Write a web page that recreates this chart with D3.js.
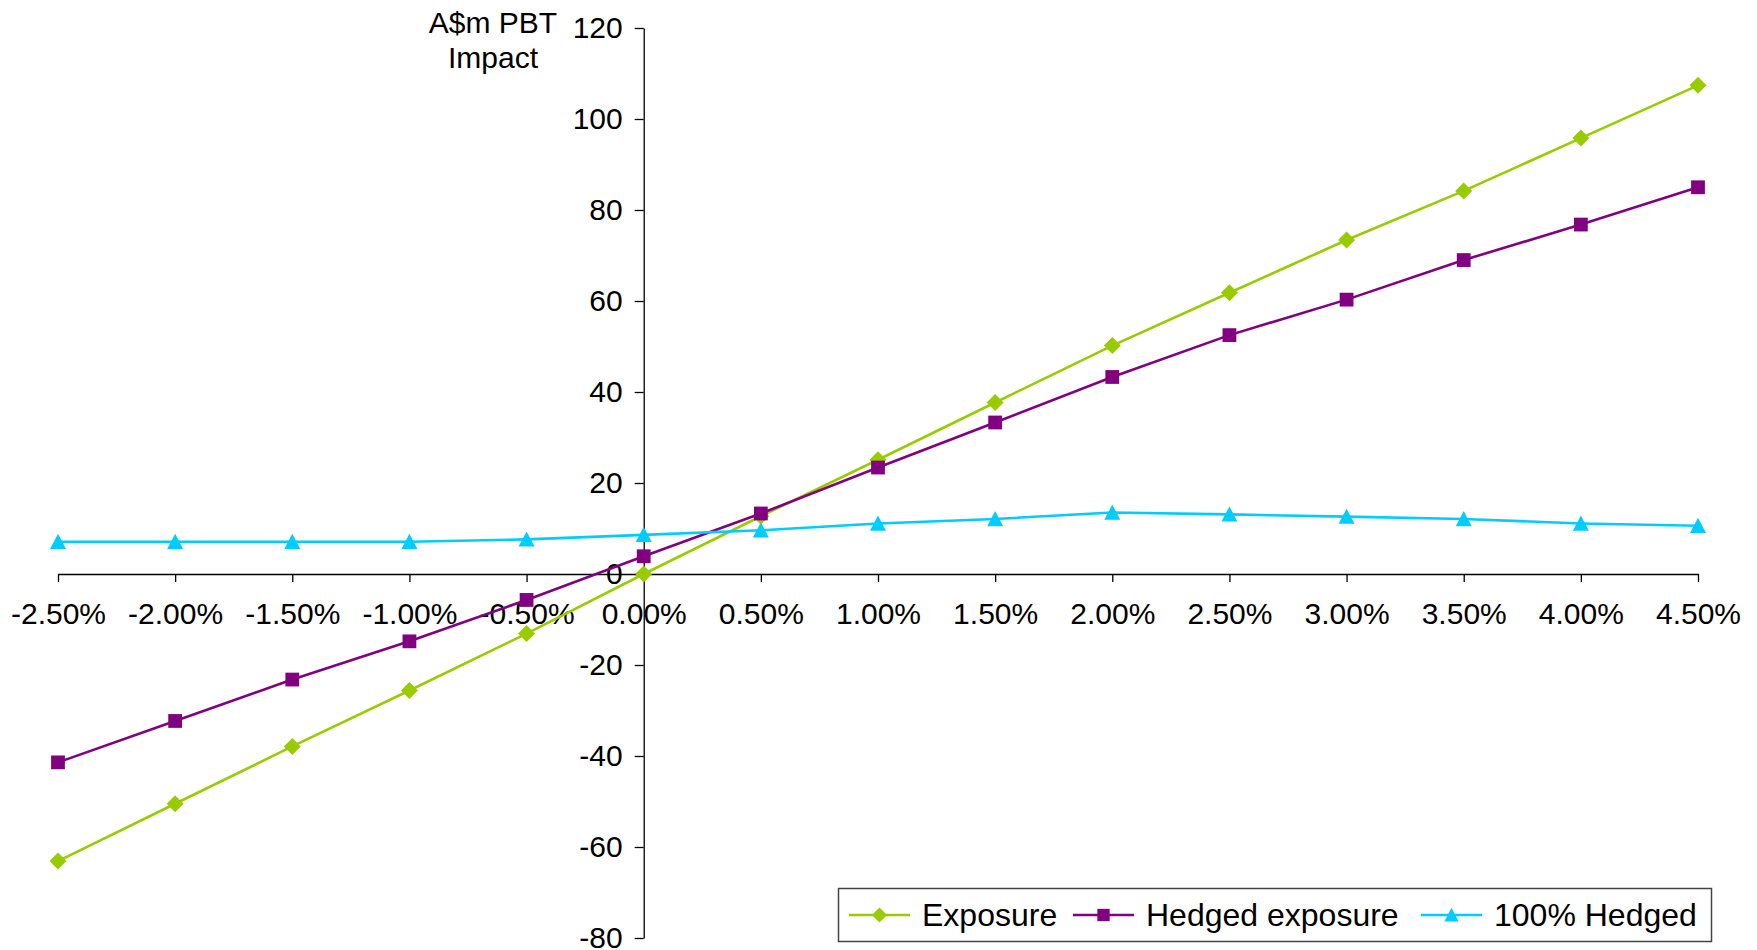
<!DOCTYPE html>
<html lang="en">
<head>
    <meta charset="UTF-8">
    <title>A$m PBT Impact</title>
    <script src="https://d3js.org/d3.v7.min.js"></script>
    <style>
        body {
            margin: 0;
            background: #ffffff;
            font-family: 'Liberation Sans', Arial, sans-serif;
            overflow: hidden;
        }
        .axis text {
            font-family: 'Liberation Sans', Arial, sans-serif;
            font-size: 30px;
            fill: #000;
        }
        .axis path, .axis line {
            stroke: #000;
            stroke-width: 1.3;
        }
    </style>
</head>
<body>
    <div id="chart"></div>

    <script>
        // Chart data
        const categories = ["-2.50%", "-2.00%", "-1.50%", "-1.00%", "-0.50%", "0.00%", "0.50%",
            "1.00%", "1.50%", "2.00%", "2.50%", "3.00%", "3.50%", "4.00%", "4.50%"];
        const exposure = [-63.1, -50.5, -37.9, -25.6, -13.1, 0, 12.7, 25.1, 37.7, 50.2, 61.8, 73.4, 84.2, 95.8, 107.4];
        const hedgedExposure = [-41.4, -32.3, -23.2, -14.8, -5.7, 3.9, 13.3, 23.4, 33.3, 43.3, 52.5, 60.3, 69.0, 76.8, 85.0];
        const fullyHedged = [7.1, 7.1, 7.1, 7.1, 7.6, 8.6, 9.6, 11.1, 12.1, 13.5, 13.1, 12.6, 12.1, 11.1, 10.6];
        const yTicks = [-80, -60, -40, -20, 0, 20, 40, 60, 80, 100, 120];
        const seriesNames = ["Exposure", "Hedged exposure", "100% Hedged"];

        const width = 1757;
        const height = 950;

        const svg = d3.select("#chart")
            .append("svg")
            .attr("width", width)
            .attr("height", height);

        // x is categorical, points sit on the ticks
        const x = d3.scalePoint()
            .domain(categories)
            .range([58, 1698]);

        const y = d3.scaleLinear()
            .domain([-80, 120])
            .range([938, 28]);

        const zeroX = x("0.00%");

        // y axis runs through the 0.00% category
        svg.append("g")
            .attr("class", "axis")
            .attr("transform", `translate(${zeroX},0)`)
            .call(d3.axisLeft(y).tickValues(yTicks).tickFormat(d => String(d))
                .tickSize(9).tickSizeOuter(0).tickPadding(12));

        // x axis crosses at zero
        svg.append("g")
            .attr("class", "axis")
            .attr("transform", `translate(0,${y(0)})`)
            .call(d3.axisBottom(x).tickSize(8).tickSizeOuter(0).tickPadding(21));

        // axis title
        svg.append("text")
            .attr("x", 493)
            .attr("y", 33)
            .attr("text-anchor", "middle")
            .style("font-size", "30px")
            .text("A$m PBT");
        svg.append("text")
            .attr("x", 493)
            .attr("y", 68)
            .attr("text-anchor", "middle")
            .style("font-size", "30px")
            .text("Impact");

        // Excel style markers: rotated square, square, triangle
        const diamond = {
            draw(ctx, size) {
                const r = Math.sqrt(size) / 2;
                ctx.moveTo(0, -r); ctx.lineTo(r, 0); ctx.lineTo(0, r); ctx.lineTo(-r, 0); ctx.closePath();
            }
        };
        const triangle = {
            draw(ctx, size) {
                const r = Math.sqrt(size) / 2;
                ctx.moveTo(0, -r); ctx.lineTo(r, r * 0.9); ctx.lineTo(-r, r * 0.9); ctx.closePath();
            }
        };

        const series = [
            { name: seriesNames[0], values: exposure, color: "#99CC00", symbol: diamond, size: 289 },
            { name: seriesNames[1], values: hedgedExposure, color: "#800080", symbol: d3.symbolSquare, size: 190 },
            { name: seriesNames[2], values: fullyHedged, color: "#00CCFF", symbol: triangle, size: 256 }
        ];

        const line = d3.line()
            .x((d, i) => x(categories[i]))
            .y(d => y(d));

        series.forEach(s => {
            const g = svg.append("g");
            g.append("path")
                .datum(s.values)
                .attr("fill", "none")
                .attr("stroke", s.color)
                .attr("stroke-width", 2.6)
                .attr("d", line);

            g.selectAll("path.marker")
                .data(s.values)
                .enter().append("path")
                .attr("class", "marker")
                .attr("transform", (d, i) => `translate(${x(categories[i])},${y(d)})`)
                .attr("d", d3.symbol().type(s.symbol).size(s.size))
                .attr("fill", s.color);
        });

        // legend
        const legend = svg.append("g");
        legend.append("rect")
            .attr("x", 838.5)
            .attr("y", 888.5)
            .attr("width", 873)
            .attr("height", 53)
            .attr("fill", "#fff")
            .attr("stroke", "#444")
            .attr("stroke-width", 1.5);

        const legendX = [849, 1073, 1421];
        series.forEach((s, i) => {
            const lg = legend.append("g").attr("transform", `translate(${legendX[i]},915)`);
            lg.append("line")
                .attr("x1", 0).attr("x2", 61)
                .attr("stroke", s.color)
                .attr("stroke-width", 2.6);
            lg.append("path")
                .attr("transform", "translate(30.5,0)")
                .attr("d", d3.symbol().type(s.symbol).size(s.size * 0.8))
                .attr("fill", s.color);
            lg.append("text")
                .attr("x", 73)
                .attr("y", 11)
                .style("font-size", "32px")
                .text(s.name);
        });
    </script>
</body>
</html>
